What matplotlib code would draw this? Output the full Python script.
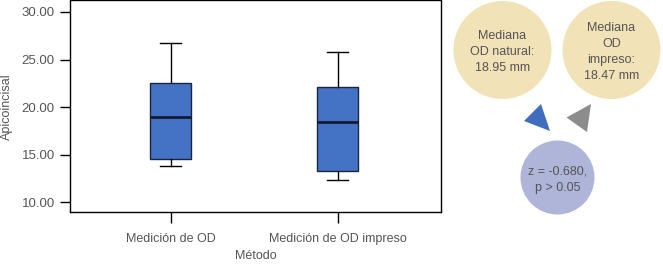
import matplotlib
matplotlib.use("Agg")
import matplotlib.pyplot as plt
from matplotlib.patches import Circle, Polygon
from matplotlib.ticker import FormatStrFormatter

plt.rcParams['font.family'] = ['Liberation Sans', 'DejaVu Sans']

# datos
metodos = ['Medición de OD', 'Medición de OD impreso']
bigote_inf = [13.8, 12.3]
q1 = [14.5, 13.25]
mediana = [18.95, 18.47]
q3 = [22.57, 22.1]
bigote_sup = [26.75, 25.8]
yticks = [10, 15, 20, 25, 30]

textos_circulos = ['Mediana\nOD natural:\n18.95 mm', 'Mediana\nOD\nimpreso:\n18.47 mm', 'z = -0.680,\np > 0.05']

gris = '#555555'
fs = 9

fig = plt.figure(figsize=(6.63, 2.65), dpi=100)
ax = fig.add_axes([70/663, 53/265, 371/663, 211.5/265])

stats = []
for i in range(len(metodos)):
    stats.append({'whislo': bigote_inf[i], 'q1': q1[i], 'med': mediana[i],
                  'q3': q3[i], 'whishi': bigote_sup[i], 'fliers': []})

ax.bxp(stats, positions=[1, 2], widths=0.25, capwidths=0.13, patch_artist=True,
       boxprops=dict(facecolor='#4472C4', edgecolor='#1c2540', linewidth=1),
       medianprops=dict(color='#161a33', linewidth=2),
       whiskerprops=dict(color='black', linewidth=1),
       capprops=dict(color='black', linewidth=1))

ax.set_xlim(0.397, 2.62)
ax.set_ylim(8.98, 31.2)
ax.set_yticks(yticks)
ax.yaxis.set_major_formatter(FormatStrFormatter('%.2f'))
ax.set_xticks([1, 2])
ax.set_xticklabels(metodos)
ax.tick_params(axis='y', length=7, width=1, colors='black', labelcolor=gris, labelsize=fs + 0.5, pad=4)
ax.tick_params(axis='x', length=8, width=1, colors='black', labelcolor=gris, labelsize=fs, pad=7)
for s in ax.spines.values():
    s.set_linewidth(1)
    s.set_color('black')
ax.set_ylabel('Apicoincisal', color=gris, fontsize=fs, labelpad=6)
ax.set_xlabel('Método', color=gris, fontsize=fs, labelpad=4)

# capa de anotaciones en pixeles
ov = fig.add_axes([0, 0, 1, 1])
ov.set_xlim(0, 663)
ov.set_ylim(265, 0)
ov.axis('off')

circulos = [(502.5, 50, 49, '#F1E2B8'), (611.5, 50, 49, '#F1E2B8'), (557.5, 177.5, 37, '#AFB4D9')]
for (cx, cy, r, col), txt in zip(circulos, textos_circulos):
    ov.add_patch(Circle((cx, cy), r, facecolor=col, edgecolor='none'))
    ov.text(cx, cy + 2, txt, ha='center', va='center', color=gris, fontsize=fs,
            linespacing=1.45)

ov.add_patch(Polygon([(524, 121), (541, 104), (550, 131)], closed=True,
                     facecolor='#3F6DC0', edgecolor='none'))
ov.add_patch(Polygon([(566.5, 117.5), (591, 104), (587, 132)], closed=True,
                     facecolor='#8C8C8C', edgecolor='none'))

fig.savefig('out.png', dpi=100)
